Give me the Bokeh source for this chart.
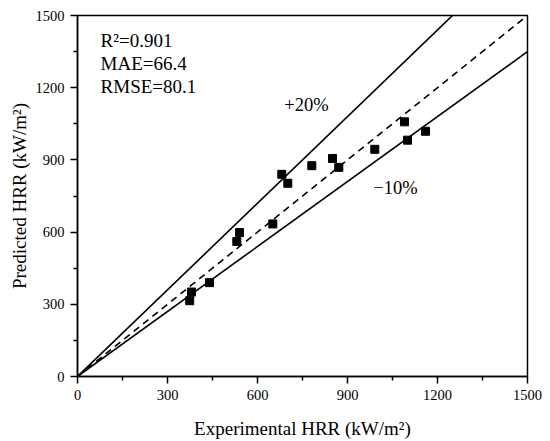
from bokeh.plotting import figure
from bokeh.models import FixedTicker, Range1d
from bokeh.core.properties import value
from bokeh.embed import file_html
from bokeh.resources import INLINE

experimental = [374, 380, 440, 531, 540, 651, 681, 701, 781, 850, 871, 991, 1090, 1100, 1160]
predicted = [315, 351, 390, 561, 598, 634, 840, 803, 876, 906, 869, 944, 1058, 982, 1019]
line_x = [0, 1500]
ratio_ideal = 1.0
ratio_upper = 1.2
ratio_lower = 0.9
major_ticks = [0, 300, 600, 900, 1200, 1500]
minor_ticks = [150, 450, 750, 1050, 1350]
stats_lines = ["R\u00b2=0.901", "MAE=66.4", "RMSE=80.1"]
stats_x = [77, 77, 77]
stats_y = [1397, 1301, 1206]
band_labels = ["+20%", "\u221210%"]
band_x = [763, 1060]
band_y = [1127, 783]

FONT = "Liberation Serif"

p = figure(width=542, height=441, output_backend="svg", toolbar_location=None,
           x_range=Range1d(0, 1500), y_range=Range1d(0, 1500),
           min_border_left=77, min_border_right=15, min_border_top=15, min_border_bottom=64)
p.grid.visible = False
p.outline_line_color = "black"
p.outline_line_width = 1.5
p.background_fill_color = "white"
p.border_fill_color = "white"

for ax in (p.xaxis[0], p.yaxis[0]):
    ax.ticker = FixedTicker(ticks=major_ticks, minor_ticks=minor_ticks)
    ax.axis_line_width = 1.5
    ax.major_tick_line_width = 1.5
    ax.minor_tick_line_width = 1.5
    ax.major_tick_out = 7
    ax.major_tick_in = 0
    ax.minor_tick_out = 4
    ax.minor_tick_in = 0
    ax.major_label_text_font = FONT
    ax.major_label_text_font_size = "14.5px"
    ax.major_label_text_color = "black"
    ax.axis_label_text_font = FONT
    ax.axis_label_text_font_size = "19px"
    ax.axis_label_text_font_style = "normal"
    ax.axis_label_text_color = "black"

p.xaxis.axis_label = "Experimental HRR (kW/m\u00b2)"
p.yaxis.axis_label = "Predicted HRR (kW/m\u00b2)"
p.xaxis.major_label_standoff = 6
p.yaxis.major_label_standoff = 6
p.xaxis.axis_label_standoff = 15
p.yaxis.axis_label_standoff = 3

p.line(line_x, [v * ratio_ideal for v in line_x], line_color="black", line_width=1.6, line_dash="7 5")
p.line(line_x, [v * ratio_upper for v in line_x], line_color="black", line_width=1.6)
p.line(line_x, [v * ratio_lower for v in line_x], line_color="black", line_width=1.6)

p.scatter(experimental, predicted, marker="square", size=8, fill_color="black", line_color="black")

p.text(x=stats_x, y=stats_y, text=stats_lines, text_font=value(FONT), text_font_size="19px",
       text_baseline="middle", text_align="left", text_color="black")
p.text(x=band_x, y=band_y, text=band_labels, text_font=value(FONT), text_font_size="18.5px",
       text_baseline="middle", text_align="center", text_color="black")

open("out.html", "w").write(file_html(p, INLINE))
